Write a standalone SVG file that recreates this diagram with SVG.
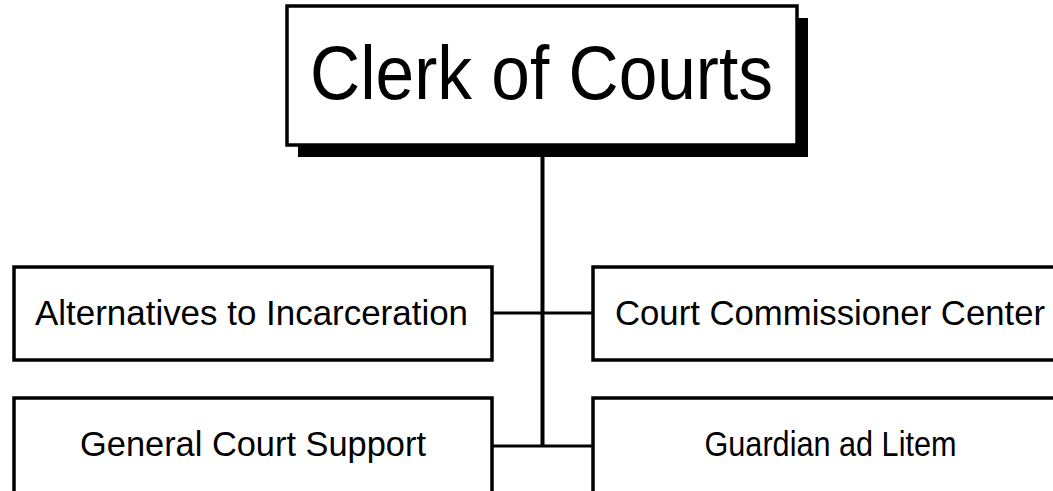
<svg xmlns="http://www.w3.org/2000/svg" width="1053" height="491" viewBox="0 0 1053 491">
<style>
.box{fill:#fff;stroke:#000;stroke-width:3.5}
.shadow{fill:#000}
.lbl{font-family:"Liberation Sans",Arial,sans-serif;fill:#000;text-anchor:middle}
.sub{font-size:35px}
.conn{stroke:#000;fill:none}
</style>
<rect width="1053" height="491" fill="#fff"/>
<g id="connectors">
<line class="conn" x1="542.5" y1="145" x2="542.5" y2="447" stroke-width="4"/>
<line class="conn" x1="492" y1="313" x2="593" y2="313" stroke-width="3"/>
<line class="conn" x1="492" y1="446" x2="593" y2="446" stroke-width="3"/>
</g>
<g id="clerk">
<rect class="shadow" x="298" y="18" width="510" height="139"/>
<rect class="box" x="287" y="6" width="510" height="139"/>
<text class="lbl" x="541.5" y="99" font-size="76" textLength="463" lengthAdjust="spacingAndGlyphs">Clerk of Courts</text>
</g>
<g id="alternatives">
<rect class="box" x="14" y="267" width="478" height="93"/>
<text class="lbl sub" x="251.5" y="325" textLength="433" lengthAdjust="spacingAndGlyphs">Alternatives to Incarceration</text>
</g>
<g id="commissioner">
<rect class="box" x="593" y="267" width="464" height="93"/>
<text class="lbl sub" x="830" y="325" textLength="430" lengthAdjust="spacingAndGlyphs">Court Commissioner Center</text>
</g>
<g id="general">
<rect class="box" x="14" y="398" width="478" height="110"/>
<text class="lbl sub" x="253" y="456" textLength="346" lengthAdjust="spacingAndGlyphs">General Court Support</text>
</g>
<g id="guardian">
<rect class="box" x="593" y="398" width="464" height="110"/>
<text class="lbl sub" x="830.5" y="456" textLength="252" lengthAdjust="spacingAndGlyphs">Guardian ad Litem</text>
</g>
</svg>
